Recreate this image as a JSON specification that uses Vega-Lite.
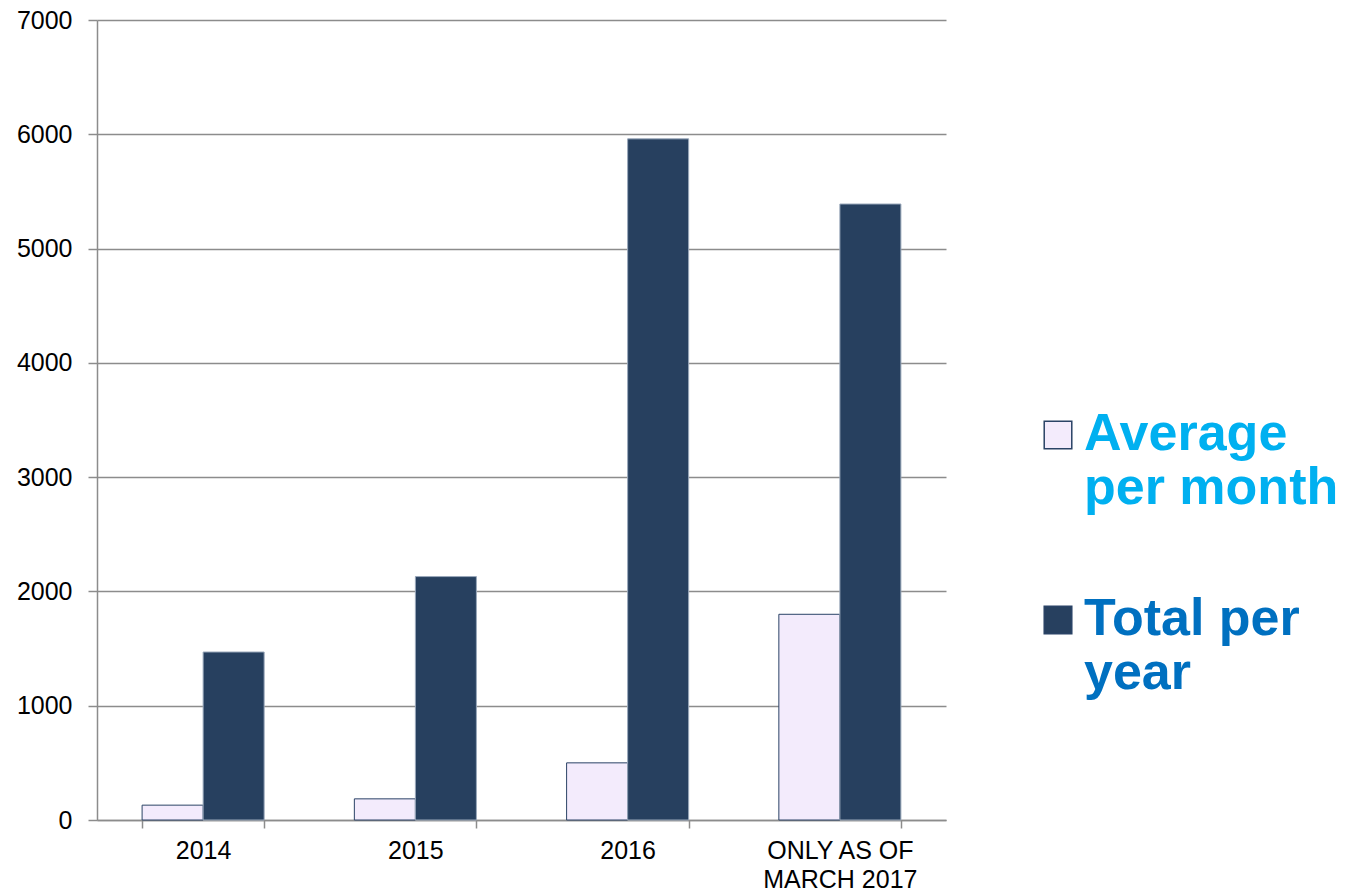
{
  "$schema": "https://vega.github.io/schema/vega-lite/v6.json",
  "background": "#ffffff",
  "autosize": {"type": "none"},
  "padding": {"left": 97, "top": 20, "right": 405, "bottom": 76},
  "width": 849,
  "height": 800,
  "data": {
    "values": [
      {"period": "2014", "measure": "Average per month", "value": 130},
      {"period": "2014", "measure": "Total per year", "value": 1470},
      {"period": "2015", "measure": "Average per month", "value": 185},
      {"period": "2015", "measure": "Total per year", "value": 2130},
      {"period": "2016", "measure": "Average per month", "value": 500},
      {"period": "2016", "measure": "Total per year", "value": 5960},
      {"period": "ONLY AS OF MARCH 2017", "measure": "Average per month", "value": 1800},
      {"period": "ONLY AS OF MARCH 2017", "measure": "Total per year", "value": 5390}
    ]
  },
  "mark": {"type": "bar", "strokeWidth": 1},
  "encoding": {
    "x": {
      "field": "period",
      "type": "nominal",
      "title": null,
      "scale": {"paddingInner": 0.425, "paddingOuter": 0.2125},
      "axis": {
        "labelAngle": 0,
        "labelExpr": "datum.value == 'ONLY AS OF MARCH 2017' ? ['ONLY AS OF', 'MARCH 2017'] : datum.value",
        "tickBand": "extent",
        "tickSize": 8,
        "labelPadding": 10,
        "labelLineHeight": 29,
        "labelBaseline": "top"
      }
    },
    "xOffset": {
      "field": "measure",
      "type": "nominal",
      "sort": ["Average per month", "Total per year"]
    },
    "y": {
      "field": "value",
      "type": "quantitative",
      "title": null,
      "scale": {"domain": [0, 7000], "nice": false},
      "axis": {
        "values": [0, 1000, 2000, 3000, 4000, 5000, 6000, 7000],
        "format": "d",
        "tickSize": 9,
        "labelPadding": 16
      }
    },
    "stroke": {
      "condition": {"test": "datum.measure == 'Total per year'", "value": "#9aa8bb"},
      "value": "#2a4366"
    },
    "color": {
      "field": "measure",
      "type": "nominal",
      "scale": {
        "domain": ["Average per month", "Total per year"],
        "range": ["#f3ebfc", "#27405f"]
      },
      "legend": {
        "title": null,
        "orient": "none",
        "legendX": 935,
        "legendY": 389,
        "symbolType": "square",
        "symbolSize": 760,
        "symbolStrokeColor": "#2a4366",
        "symbolStrokeWidth": 1.5,
        "labelFont": "Liberation Sans",
        "labelFontSize": 52,
        "labelFontWeight": "bold",
        "labelLineHeight": 56,
        "labelLimit": 500,
        "labelOffset": 0,
        "labelBaseline": "alphabetic",
        "rowPadding": 79,
        "labelExpr": "datum.value == 'Average per month' ? ['Average', 'per month'] : ['Total per', 'year']",
        "encode": {
          "labels": {
            "update": {
              "fill": {"signal": "datum.value == 'Total per year' ? '#0070c0' : '#00b0f0'"},
              "dy": {"value": 15}
            }
          }
        }
      }
    }
  },
  "config": {
    "view": {"stroke": null},
    "axis": {
      "labelFont": "Liberation Sans",
      "labelFontSize": 25,
      "labelColor": "#000000",
      "domainColor": "#8c8c8c",
      "tickColor": "#8c8c8c",
      "gridColor": "#8c8c8c",
      "domainWidth": 1.5,
      "tickWidth": 1.5,
      "gridWidth": 1.5
    },
    "axisX": {"grid": false},
    "axisY": {"grid": true, "domain": true}
  }
}
